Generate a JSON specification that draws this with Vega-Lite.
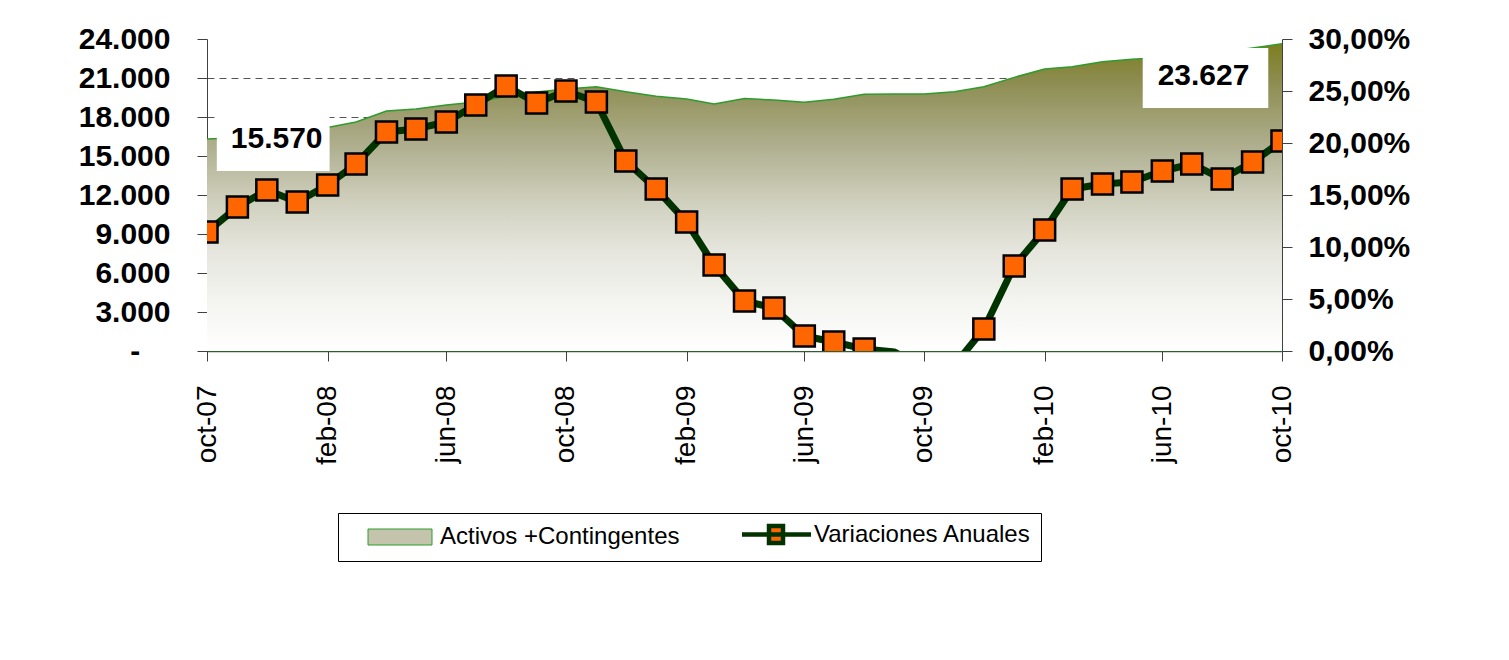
{
  "$schema": "https://vega.github.io/schema/vega-lite/v6.json",
  "width": 1075,
  "height": 312,
  "autosize": {"type": "none"},
  "padding": {"left": 207, "top": 39, "right": 227, "bottom": 309},
  "background": "white",
  "config": {"view": {"stroke": null}, "font": "Liberation Sans"},
  "datasets": {
    "serie": [
      {"mes": "2007-10-01", "activos": 16300, "variacion": 11.44},
      {"mes": "2007-11-01", "activos": 16400, "variacion": 13.85},
      {"mes": "2007-12-01", "activos": 16600, "variacion": 15.48},
      {"mes": "2008-01-01", "activos": 16900, "variacion": 14.33},
      {"mes": "2008-02-01", "activos": 17190, "variacion": 15.96},
      {"mes": "2008-03-01", "activos": 17620, "variacion": 17.98},
      {"mes": "2008-04-01", "activos": 18460, "variacion": 21.06},
      {"mes": "2008-05-01", "activos": 18620, "variacion": 21.35},
      {"mes": "2008-06-01", "activos": 18920, "variacion": 22.02},
      {"mes": "2008-07-01", "activos": 19150, "variacion": 23.65},
      {"mes": "2008-08-01", "activos": 19600, "variacion": 25.48},
      {"mes": "2008-09-01", "activos": 19920, "variacion": 23.85},
      {"mes": "2008-10-01", "activos": 20150, "variacion": 25.0},
      {"mes": "2008-11-01", "activos": 20330, "variacion": 23.94},
      {"mes": "2008-12-01", "activos": 19950, "variacion": 18.27},
      {"mes": "2009-01-01", "activos": 19600, "variacion": 15.58},
      {"mes": "2009-02-01", "activos": 19380, "variacion": 12.4},
      {"mes": "2009-03-01", "activos": 19000, "variacion": 8.27},
      {"mes": "2009-04-01", "activos": 19420, "variacion": 4.81},
      {"mes": "2009-05-01", "activos": 19310, "variacion": 4.13},
      {"mes": "2009-06-01", "activos": 19130, "variacion": 1.44},
      {"mes": "2009-07-01", "activos": 19360, "variacion": 0.87},
      {"mes": "2009-08-01", "activos": 19750, "variacion": 0.19},
      {"mes": "2009-09-01", "activos": 19770, "variacion": -0.1},
      {"mes": "2009-10-01", "activos": 19770, "variacion": -1.6},
      {"mes": "2009-11-01", "activos": 19950, "variacion": -1.35},
      {"mes": "2009-12-01", "activos": 20330, "variacion": 2.12},
      {"mes": "2010-01-01", "activos": 21050, "variacion": 8.17},
      {"mes": "2010-02-01", "activos": 21690, "variacion": 11.63},
      {"mes": "2010-03-01", "activos": 21870, "variacion": 15.58},
      {"mes": "2010-04-01", "activos": 22250, "variacion": 16.06},
      {"mes": "2010-05-01", "activos": 22440, "variacion": 16.25},
      {"mes": "2010-06-01", "activos": 22580, "variacion": 17.31},
      {"mes": "2010-07-01", "activos": 22770, "variacion": 17.98},
      {"mes": "2010-08-01", "activos": 23000, "variacion": 16.54},
      {"mes": "2010-09-01", "activos": 23310, "variacion": 18.17},
      {"mes": "2010-10-01", "activos": 23627, "variacion": 20.19}
    ],
    "leyenda": [
      {"nombre": "Activos +Contingentes"},
      {"nombre": "Variaciones Anuales"}
    ]
  },
  "layer": [
    {
      "data": {"name": "serie"},
      "layer": [
        {
          "mark": {
            "type": "area",
            "opacity": 1,
            "fill": {
              "gradient": "linear", "x1": 0, "y1": 0, "x2": 0, "y2": 1,
              "stops": [
                {"offset": 0, "color": "#7E7E20"},
                {"offset": 0.12, "color": "#8C8C50"},
                {"offset": 0.35, "color": "#B2B294"},
                {"offset": 0.51, "color": "#CFCFBD"},
                {"offset": 0.67, "color": "#E5E5DD"},
                {"offset": 0.83, "color": "#F3F3EF"},
                {"offset": 1, "color": "#FFFFFF"}
              ]
            },
            "line": {"color": "#2E9B2E", "strokeWidth": 1.5}
          },
          "encoding": {
            "x": {
              "field": "mes", "type": "temporal",
              "scale": {"type": "utc", "nice": false, "domain": [
                {"year": 2007, "month": 10, "date": 1, "utc": true},
                {"year": 2010, "month": 10, "date": 1, "utc": true}
              ]},
              "axis": {
                "title": null,
                "values": [
                  {"year": 2007, "month": 10, "date": 1, "utc": true},
                  {"year": 2008, "month": 2, "date": 1, "utc": true},
                  {"year": 2008, "month": 6, "date": 1, "utc": true},
                  {"year": 2008, "month": 10, "date": 1, "utc": true},
                  {"year": 2009, "month": 2, "date": 1, "utc": true},
                  {"year": 2009, "month": 6, "date": 1, "utc": true},
                  {"year": 2009, "month": 10, "date": 1, "utc": true},
                  {"year": 2010, "month": 2, "date": 1, "utc": true},
                  {"year": 2010, "month": 6, "date": 1, "utc": true},
                  {"year": 2010, "month": 10, "date": 1, "utc": true}
                ],
                "tickCount": 40,
                "labelExpr": "lower(utcFormat(datum.value, '%b-%y'))",
                "labelAngle": -90,
                "labelAlign": "right",
                "labelBaseline": "middle",
                "labelFont": "Liberation Sans",
                "labelFontSize": 28,
                "labelColor": "#000000",
                "labelPadding": 24,
                "labelOverlap": false,
                "labelFlush": false,
                "tickSize": 10,
                "tickColor": "#404040",
                "domainColor": "#2F5F2F",
                "domainWidth": 1.5,
                "grid": false
              }
            },
            "y": {
              "field": "activos", "type": "quantitative",
              "scale": {"domain": [0, 24000], "nice": false, "zero": true},
              "axis": {
                "title": null,
                "orient": "left",
                "values": [0, 3000, 6000, 9000, 12000, 15000, 18000, 21000, 24000],
                "tickCount": 40,
                "labelExpr": "datum.value == 0 ? '-\u00a0\u2800' : replace(format(datum.value, ','), ',', '.')",
                "labelFont": "Liberation Sans",
                "labelFontSize": 30,
                "labelFontWeight": "bold",
                "labelColor": "#000000",
                "labelOverlap": false,
                "labelPadding": 27,
                "tickSize": 10,
                "tickColor": "#404040",
                "domainColor": "#404040",
                "grid": true,
                "gridColor": "#555555",
                "gridDash": [7, 5],
                "gridWidth": 1,
                "gridOpacity": {"condition": {"test": "datum.value == 24000", "value": 0}, "value": 1}
              }
            }
          }
        },
        {
          "data": {"values": [{}]},
          "mark": {"type": "rect", "fill": "#FFFFFF", "opacity": 1},
          "encoding": {
            "x": {"datum": {"year": 2007, "month": 10, "date": 11, "utc": true}, "type": "temporal"},
            "x2": {"datum": {"year": 2008, "month": 2, "date": 3, "utc": true}},
            "y": {"datum": 18000, "type": "quantitative"},
            "y2": {"datum": 13846}
          }
        },
        {
          "data": {"values": [{}]},
          "mark": {"type": "rect", "fill": "#FFFFFF", "opacity": 1},
          "encoding": {
            "x": {"datum": {"year": 2010, "month": 5, "date": 12, "utc": true}, "type": "temporal"},
            "x2": {"datum": {"year": 2010, "month": 9, "date": 17, "utc": true}},
            "y": {"datum": 23308, "type": "quantitative"},
            "y2": {"datum": 18692}
          }
        },
        {
          "data": {"values": [{}]},
          "mark": {"type": "text", "text": "15.570", "font": "Liberation Sans", "fontSize": 30, "fontWeight": "bold", "color": "#000000", "align": "center", "baseline": "alphabetic"},
          "encoding": {
            "x": {"datum": {"year": 2007, "month": 12, "date": 11, "utc": true}, "type": "temporal"},
            "y": {"datum": 15615, "type": "quantitative"}
          }
        },
        {
          "data": {"values": [{}]},
          "mark": {"type": "text", "text": "23.627", "font": "Liberation Sans", "fontSize": 30, "fontWeight": "bold", "color": "#000000", "align": "center", "baseline": "alphabetic"},
          "encoding": {
            "x": {"datum": {"year": 2010, "month": 7, "date": 13, "utc": true}, "type": "temporal"},
            "y": {"datum": 20460, "type": "quantitative"}
          }
        }
      ]
    },
    {
      "data": {"name": "serie"},
      "layer": [
        {
          "mark": {"type": "line", "color": "#003300", "strokeWidth": 7, "strokeJoin": "round", "clip": true, "opacity": 1},
          "encoding": {
            "x": {"field": "mes", "type": "temporal"},
            "y": {
              "field": "variacion", "type": "quantitative",
              "scale": {"domain": [0, 30], "nice": false, "zero": true},
              "axis": {
                "title": null,
                "orient": "right",
                "values": [0, 5, 10, 15, 20, 25, 30],
                "tickCount": 40,
                "labelExpr": "replace(format(datum.value, '.2f'), '.', ',') + '%'",
                "labelFont": "Liberation Sans",
                "labelFontSize": 30,
                "labelFontWeight": "bold",
                "labelColor": "#000000",
                "labelOverlap": false,
                "labelPadding": 16,
                "tickSize": 10,
                "tickColor": "#404040",
                "domainColor": "#404040",
                "grid": false
              }
            }
          }
        },
        {
          "transform": [{"filter": "datum.variacion >= 0"}],
          "mark": {"type": "point", "shape": "square", "size": 441, "filled": true, "fill": "#FF6600", "stroke": "#000000", "strokeWidth": 2.5, "opacity": 1, "clip": true},
          "encoding": {
            "x": {"field": "mes", "type": "temporal"},
            "y": {"field": "variacion", "type": "quantitative"}
          }
        }
      ]
    },
    {
      "data": {"name": "leyenda"},
      "transform": [{"filter": "false"}],
      "mark": {"type": "point", "filled": true, "opacity": 1},
      "encoding": {
        "color": {
          "field": "nombre", "type": "nominal", "title": null,
          "scale": {"domain": ["Activos +Contingentes", "Variaciones Anuales"], "range": ["#C4C3AC", "#FF6600"]},
          "legend": {
            "title": null,
            "orient": "none",
            "legendX": 131,
            "legendY": 474,
            "direction": "horizontal",
            "columns": 2,
            "labelFont": "Liberation Sans",
            "labelFontSize": 24,
            "labelColor": "#000000",
            "labelLimit": 0,
            "labelOffset": 68,
            "columnPadding": 41,
            "padding": 9,
            "strokeColor": "#000000",
            "fillColor": "#FFFFFF",
            "symbolSize": 400,
            "symbolOpacity": 1
          }
        },
        "stroke": {
          "field": "nombre", "type": "nominal", "title": null,
          "scale": {"domain": ["Activos +Contingentes", "Variaciones Anuales"], "range": ["#2E9B2E", "#003300"]},
          "legend": {"title": null}
        },
        "shape": {
          "field": "nombre", "type": "nominal", "title": null,
          "scale": {"domain": ["Activos +Contingentes", "Variaciones Anuales"], "range": ["M0.85,-0.8H7.25V0.8H0.85Z", "M0.85,0H7.75M3.55,-0.85H4.95V0.85H3.55Z"]},
          "legend": {"title": null}
        },
        "strokeWidth": {
          "field": "nombre", "type": "ordinal", "title": null,
          "scale": {"domain": ["Activos +Contingentes", "Variaciones Anuales"], "range": [1, 4.5]},
          "legend": {"title": null}
        }
      }
    }
  ],
  "resolve": {"scale": {"y": "independent"}}
}
